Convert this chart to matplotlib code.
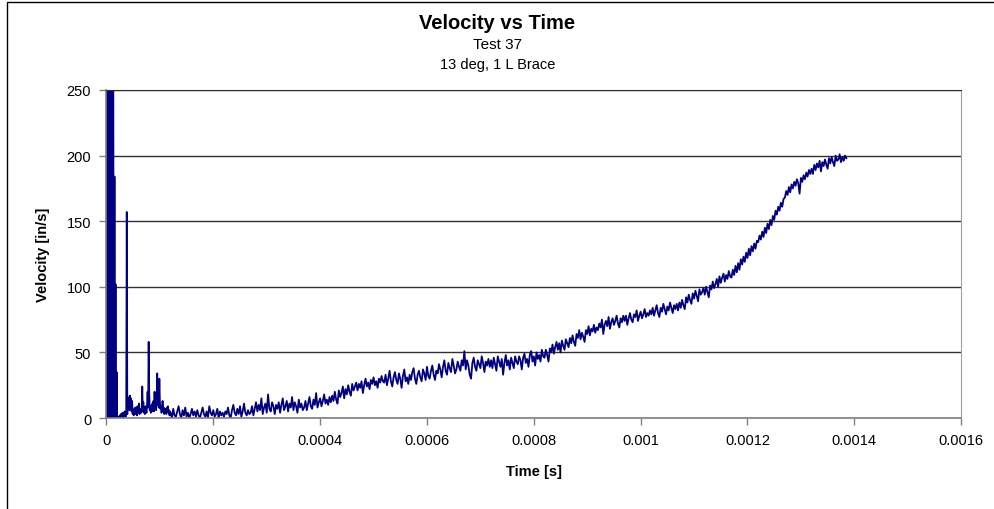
import matplotlib.pyplot as plt
import matplotlib.patches as patches
import numpy as np

plt.rcParams['font.family'] = ['Liberation Sans', 'DejaVu Sans']

# sampled velocity record, first part at 1 us, rest at 2.5 us
dt_early = 1e-6
vel_early = [600, 0, 650, 0, 700, 0, 620, 0, 680, 0, 640, 0, 560,
             184, 0, 184, 0, 102, 0, 35, 0, 0,
             0, 1, 0, 2, 0, 3, 1, 0, 4, 2, 0, 3, 5, 2, 1, 4,
             157, 3,
             16, 8, 14, 6, 17, 10, 15, 5, 13,
             3, 6, 2, 7, 4, 8, 3, 5, 2, 9, 4, 6, 11, 3, 7, 5, 4, 6,
             24, 5, 12, 4, 8, 3, 9, 6, 4, 10,
             20, 8, 58, 20, 6, 9, 4, 7, 5, 11, 6, 13, 5, 20, 8, 12, 6, 15, 34, 10,
             22, 8, 30, 12, 7, 9, 4, 6, 13, 5, 8, 3, 6, 4, 7, 3, 8, 5, 9, 4, 6, 2, 5]

t_late_start = 0.00012
dt_late = 2.5e-6
vel_late = [4, 0, 7, 2, 1, 5, 9, 3, 0, 6, 2, 8, 1, 4, 0, 3, 7, 2, 5, 1,
            6, 2, 0, 4, 8, 3, 1, 5, 0, 9, 4, 2, 6, 1, 3, 7, 0, 5, 2, 4,
            1, 5, 3, 8, 2, 0, 6, 10, 4, 2, 7, 3, 9, 1, 5, 11, 4, 2, 6, 3,
            4, 9, 2, 7, 12, 5, 10, 6, 15, 3, 8, 11, 4, 18, 7, 5, 12, 9, 3, 10,
            7, 12, 4, 10, 15, 6, 9, 13, 5, 11, 8, 16, 6, 12, 9, 4, 14, 8, 11, 6,
            8, 13, 6, 11, 16, 9, 7, 14, 10, 19, 8, 12, 15, 9, 13, 18, 11, 14, 10, 16,
            12, 17, 13, 20, 14, 11, 21, 16, 19, 24, 15, 22, 18, 25, 20, 17, 26, 21, 24, 27,
            21, 26, 23, 28, 19, 25, 30, 24, 27, 22, 29, 26, 31, 25, 28, 23, 30, 27, 32, 28,
            27, 33, 25, 30, 36, 28, 24, 31, 35, 29, 26, 34, 30, 23, 32, 37, 28, 31, 26, 33,
            29, 35, 38, 30, 26, 33, 36, 31, 28, 37, 34, 29, 39, 32, 30, 36, 40, 33, 29, 36,
            34, 41, 37, 31, 39, 44, 36, 33, 42, 38, 35, 45, 40, 34, 37, 43, 39, 36, 44, 40,
            51, 37, 44, 40, 33, 30, 42, 46, 39, 36, 44, 41, 38, 47, 42, 35, 43, 40, 45, 39,
            44, 38, 46, 41, 36, 47, 43, 39, 45, 33, 42, 48, 40, 44, 37, 46, 42, 38, 47, 43,
            41, 47, 44, 37, 46, 49, 42, 45, 39, 48, 51, 43, 47, 40, 50, 45, 48, 43, 52, 47,
            46, 52, 48, 43, 53, 50, 56, 49, 54, 58, 52, 57, 50, 59, 55, 52, 60, 57, 54, 61,
            57, 63, 58, 55, 64, 61, 67, 60, 65, 62, 58, 67, 64, 70, 63, 68, 66, 71, 65, 69,
            67, 72, 69, 75, 64, 71, 74, 70, 77, 68, 73, 76, 71, 74, 78, 72, 69, 76, 73, 78,
            74, 78, 71, 76, 80, 75, 73, 79, 77, 82, 74, 78, 81, 76, 79, 83, 77, 80, 78, 82,
            79, 84, 78, 82, 86, 80, 77, 84, 81, 87, 83, 79, 85, 82, 88, 84, 80, 86, 83, 87,
            82, 88, 84, 90, 86, 83, 92, 88, 94, 90, 87, 95, 91, 97, 93, 89, 98, 94, 96, 99,
            94, 100, 96, 92, 101, 98, 104, 99, 102, 106, 100, 108, 103, 107, 110, 104, 109, 106, 112, 108,
            107, 113, 109, 116, 111, 118, 113, 121, 117, 123, 119, 126, 122, 129, 124, 131, 127, 133, 129, 135,
            134, 139, 136, 142, 138, 145, 141, 148, 144, 151, 147, 154, 151, 158, 155, 161, 158, 164, 161, 167,
            168, 173, 170, 176, 172, 178, 175, 180, 177, 182, 179, 171, 183, 180, 185, 182, 187, 184, 189, 186,
            190, 186, 193, 189, 194, 191, 196, 188, 195, 192, 197, 193, 190, 198, 194, 199, 195, 192, 200, 196,
            197, 201, 195, 199, 196, 200, 198]

x_ticks = [0, 0.0002, 0.0004, 0.0006, 0.0008, 0.001, 0.0012, 0.0014, 0.0016]
x_tick_labels = ['0', '0.0002', '0.0004', '0.0006', '0.0008', '0.001', '0.0012', '0.0014', '0.0016']
y_ticks = [0, 50, 100, 150, 200, 250]

t_early = np.arange(len(vel_early)) * dt_early
t_late = t_late_start + np.arange(len(vel_late)) * dt_late
t = np.concatenate([t_early, t_late])
v = np.concatenate([vel_early, vel_late])

fig = plt.figure(figsize=(9.95, 5.10), dpi=100)
ax = fig.add_axes([0.107, 0.1784, 0.859, 0.6432])

ax.plot(t, v, color='#000080', linewidth=1.3)

ax.set_xlim(0, 0.0016)
ax.set_ylim(0, 250)
ax.set_xticks(x_ticks)
ax.set_xticklabels(x_tick_labels)
ax.set_yticks(y_ticks)
ax.yaxis.grid(True, color='#303030', linewidth=1.0)
ax.set_axisbelow(True)
ax.tick_params(direction='out', length=5, width=1, color='#808080', labelsize=10.5, pad=6)

for side in ['left', 'bottom']:
    ax.spines[side].set_color('#808080')
    ax.spines[side].set_linewidth(1.2)
ax.spines['right'].set_color('#a0a0a0')
ax.spines['top'].set_color('#303030')

ax.set_xlabel('Time [s]', fontsize=10.5, fontweight='bold', labelpad=12)
ax.set_ylabel('Velocity [in/s]', fontsize=10.5, fontweight='bold', labelpad=12)

fig.text(0.5, 0.953, 'Velocity vs Time', ha='center', va='center', fontsize=14.5, fontweight='bold')
fig.text(0.5, 0.912, 'Test 37', ha='center', va='center', fontsize=11)
fig.text(0.5, 0.873, '13 deg, 1 L Brace', ha='center', va='center', fontsize=10.5)

# chart area border (right and bottom edges fall outside the picture)
fig.patches.append(patches.Rectangle((0.007, -0.1), 1.1, 1.094, transform=fig.transFigure,
                                     fill=False, edgecolor='black', linewidth=1.0))

fig.savefig('out.png', dpi=100)
